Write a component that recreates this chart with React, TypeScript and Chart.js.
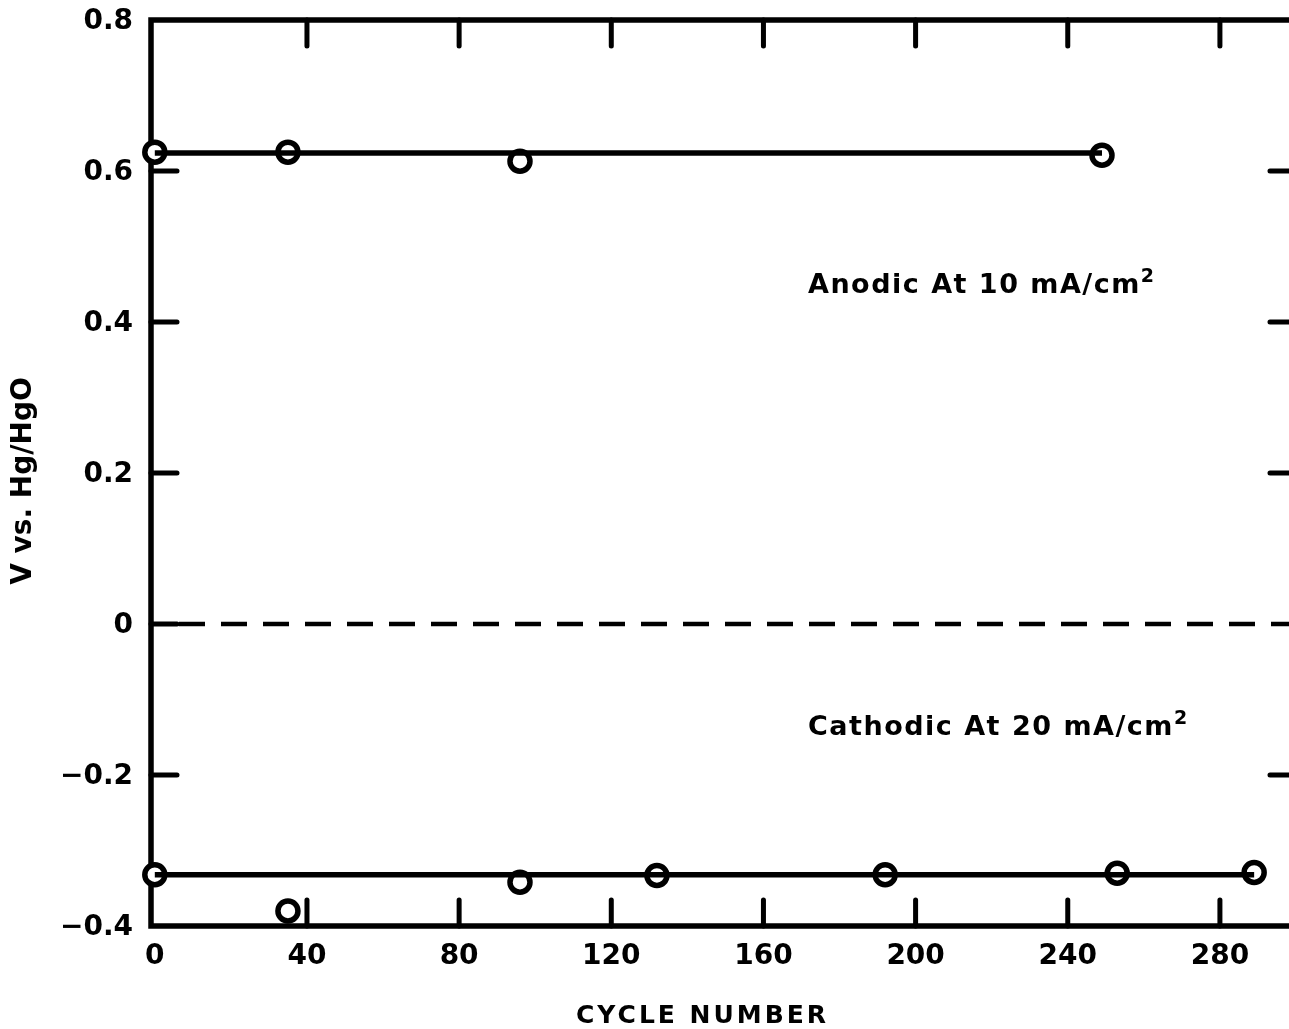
import React, { useEffect, useRef } from "react";
import { Chart, registerables } from "chart.js";

Chart.register(...registerables);

// ---- data ----
const xTickValues = [0, 40, 80, 120, 160, 200, 240, 280];
const xTickLabels = ["0", "40", "80", "120", "160", "200", "240", "280"];
const yTickValues = [0.8, 0.6, 0.4, 0.2, 0, -0.2, -0.4];
const yTickLabels = ["0.8", "0.6", "0.4", "0.2", "0", "\u22120.2", "\u22120.4"];

const anodicCycles = [0, 35, 96, 249];
const anodicVolts = [0.625, 0.625, 0.613, 0.621];
const anodicFitCycles = [0, 249];
const anodicFitVolts = [0.624, 0.624];

const cathodicCycles = [0, 35, 96, 132, 192, 253, 289];
const cathodicVolts = [-0.332, -0.38, -0.342, -0.333, -0.332, -0.33, -0.329];
const cathodicFitCycles = [0, 289];
const cathodicFitVolts = [-0.332, -0.332];

const xTitle = "CYCLE NUMBER";
const yTitle = "V vs. Hg/HgO";
const anodicLabel = "Anodic At 10 mA/cm";
const cathodicLabel = "Cathodic At 20 mA/cm";
const superscript = "2";

const FONT = "'DejaVu Sans', sans-serif";

const toPoints = (xs: number[], ys: number[]) => xs.map((x, i) => ({ x, y: ys[i] }));

const framePlugin = {
  id: "frame",
  beforeDatasetsDraw(chart: any) {
    const { ctx, chartArea } = chart;
    const { left, right, top, bottom } = chartArea;
    const xs = chart.scales.x;
    const ys = chart.scales.y;
    ctx.save();
    ctx.strokeStyle = "#000";
    ctx.lineWidth = 5.5;
    ctx.lineCap = "square";
    ctx.beginPath();
    ctx.moveTo(left, top);
    ctx.lineTo(right, top);
    ctx.moveTo(left, top);
    ctx.lineTo(left, bottom);
    ctx.moveTo(left, bottom);
    ctx.lineTo(right, bottom);
    ctx.moveTo(right, top);
    ctx.lineTo(right, bottom);
    ctx.stroke();

    ctx.lineCap = "round";
    ctx.lineWidth = 5;
    const tl = 26;
    ctx.beginPath();
    xTickValues.forEach((v) => {
      if (v === 0) return;
      const px = xs.getPixelForValue(v);
      ctx.moveTo(px, top);
      ctx.lineTo(px, top + tl);
      ctx.moveTo(px, bottom);
      ctx.lineTo(px, bottom - tl);
    });
    yTickValues.forEach((v) => {
      if (v === 0.8 || v === -0.4) return;
      const py = ys.getPixelForValue(v);
      ctx.moveTo(left, py);
      ctx.lineTo(left + tl, py);
      if (v !== 0) {
        ctx.moveTo(right, py);
        ctx.lineTo(right - tl, py);
      }
    });
    ctx.stroke();

    // dashed zero line
    const y0 = ys.getPixelForValue(0);
    ctx.lineCap = "butt";
    ctx.lineWidth = 4.5;
    ctx.setLineDash([26, 16]);
    ctx.beginPath();
    ctx.moveTo(left + 28, y0);
    ctx.lineTo(right, y0);
    ctx.stroke();
    ctx.restore();
  },
  afterDraw(chart: any) {
    const { ctx, chartArea } = chart;
    const xs = chart.scales.x;
    const ys = chart.scales.y;
    ctx.save();
    ctx.fillStyle = "#000";
    (ctx as any).letterSpacing = "0px";

    // tick labels
    ctx.font = `bold 28px ${FONT}`;
    ctx.textAlign = "center";
    ctx.textBaseline = "middle";
    xTickValues.forEach((v, i) => {
      ctx.fillText(xTickLabels[i], xs.getPixelForValue(v), chartArea.bottom + 31);
    });
    ctx.textAlign = "right";
    yTickValues.forEach((v, i) => {
      ctx.fillText(yTickLabels[i], chartArea.left - 18, ys.getPixelForValue(v) + 2);
    });

    ctx.textBaseline = "alphabetic";
    ctx.textAlign = "left";

    // x title
    ctx.font = `bold 25px ${FONT}`;
    (ctx as any).letterSpacing = "3px";
    ctx.fillText(xTitle, 576, 1023);

    // annotations
    const drawLabel = (text: string, x: number, y: number) => {
      ctx.font = `bold 27px ${FONT}`;
      (ctx as any).letterSpacing = "1.5px";
      ctx.fillText(text, x, y);
      const w = ctx.measureText(text).width;
      ctx.font = `bold 19px ${FONT}`;
      (ctx as any).letterSpacing = "0px";
      ctx.fillText(superscript, x + w, y - 11);
    };
    drawLabel(anodicLabel, 808, 293);
    drawLabel(cathodicLabel, 808, 735);

    // y title
    (ctx as any).letterSpacing = "0px";
    ctx.font = `bold 28px ${FONT}`;
    ctx.translate(24, 481);
    ctx.rotate(-Math.PI / 2);
    ctx.textAlign = "center";
    ctx.textBaseline = "middle";
    ctx.fillText(yTitle, 0, 0);
    ctx.restore();
  },
};

export default function App() {
  const ref = useRef<HTMLCanvasElement | null>(null);

  useEffect(() => {
    document.body.style.margin = "0";
    const canvas = ref.current;
    if (!canvas) return;
    const pointStyle = {
      showLine: false,
      pointRadius: 10,
      pointHoverRadius: 10,
      pointBorderWidth: 5.5,
      pointBackgroundColor: "#fff",
      pointBorderColor: "#000",
      clip: false as any,
    };
    const lineStyle = {
      borderColor: "#000",
      borderWidth: 5.5,
      pointRadius: 0,
      fill: false,
      clip: false as any,
    };
    const chart = new Chart(canvas, {
      type: "scatter",
      data: {
        datasets: [
          { label: "Anodic fit", data: toPoints(anodicFitCycles, anodicFitVolts), showLine: true, ...lineStyle },
          { label: "Cathodic fit", data: toPoints(cathodicFitCycles, cathodicFitVolts), showLine: true, ...lineStyle },
          { label: "Anodic", data: toPoints(anodicCycles, anodicVolts), ...pointStyle },
          { label: "Cathodic", data: toPoints(cathodicCycles, cathodicVolts), ...pointStyle },
        ],
      },
      options: {
        animation: false,
        responsive: false,
        maintainAspectRatio: false,
        devicePixelRatio: 1,
        layout: { autoPadding: false, padding: { left: 0, top: 20, right: 4, bottom: 0 } },
        plugins: { legend: { display: false }, tooltip: { enabled: false }, title: { display: false } },
        scales: {
          x: {
            type: "linear",
            min: -1,
            max: 300,
            grid: { display: false, drawTicks: false },
            border: { display: false },
            ticks: { display: false, padding: 0 },
            afterFit: (s: any) => {
              s.height = 103;
              s.paddingLeft = 0;
              s.paddingRight = 0;
            },
          },
          y: {
            type: "linear",
            min: -0.4,
            max: 0.8,
            grid: { display: false, drawTicks: false },
            border: { display: false },
            ticks: { display: false, padding: 0 },
            afterFit: (s: any) => {
              s.width = 151;
              s.paddingTop = 0;
              s.paddingBottom = 0;
            },
          },
        },
      },
      plugins: [framePlugin],
    });
    return () => chart.destroy();
  }, []);

  return (
    <div
      style={{
        position: "fixed",
        left: 0,
        top: 0,
        width: 1289,
        height: 1029,
        overflow: "hidden",
        background: "#fff",
      }}
    >
      <div style={{ position: "absolute", left: 0, top: 0, width: 1300, height: 1029 }}>
        <canvas ref={ref} width={1300} height={1029} style={{ display: "block", width: 1300, height: 1029 }} />
      </div>
    </div>
  );
}
